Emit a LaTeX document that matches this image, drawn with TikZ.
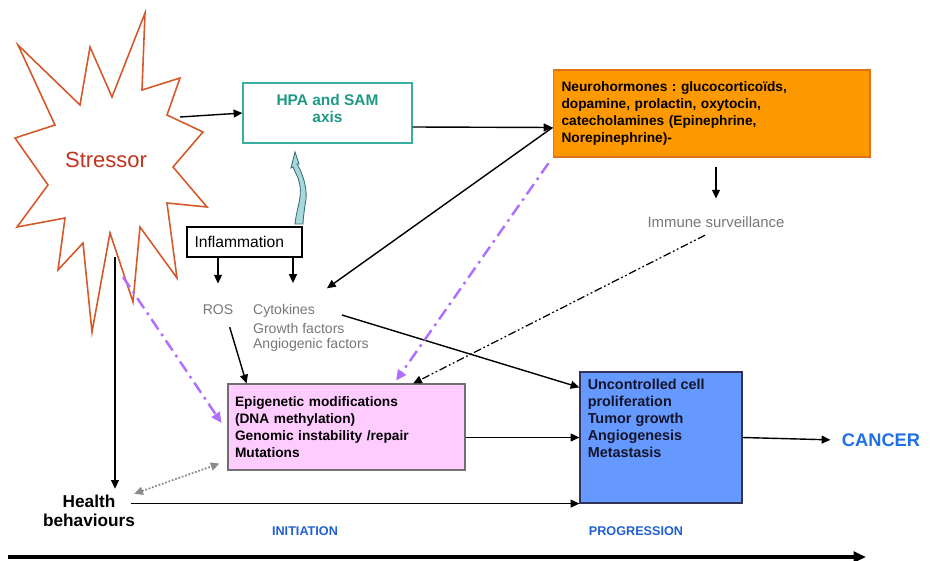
\documentclass[tikz,border=0pt]{standalone}
\usepackage{fontspec}
\setmainfont{Liberation Sans}
\usetikzlibrary{arrows.meta,calc}
\definecolor{starred}{HTML}{D4582A}
\definecolor{stressred}{HTML}{C0341D}
\definecolor{hpateal}{HTML}{3AAFA0}
\definecolor{hpatext}{HTML}{1E9985}
\definecolor{neuroorange}{HTML}{FF9900}
\definecolor{neuroedge}{HTML}{E0701A}
\definecolor{epipink}{HTML}{FFCCFF}
\definecolor{edgegray}{HTML}{707070}
\definecolor{progblue}{HTML}{6699FF}
\definecolor{progedge}{HTML}{33335A}
\definecolor{progtext}{HTML}{15152A}
\definecolor{cancerblue}{HTML}{1F6FE5}
\definecolor{stageblue}{HTML}{2060D0}
\definecolor{txtgray}{HTML}{777777}
\definecolor{arrgray}{HTML}{8A8A8A}
\definecolor{dashpurple}{HTML}{B070FF}
\definecolor{curvefill}{HTML}{A8D8DC}
\definecolor{curveedge}{HTML}{3A6F75}
\frenchspacing
\begin{document}
\begin{tikzpicture}[x=0.02cm, y=-0.02cm,
		arr/.style={-{Triangle[length=5pt,width=4.5pt]}, line width=0.8pt},
		boldtxt/.style={font=\fontsize{7.8}{9.8}\selectfont\bfseries, align=left},
		graytxt/.style={font=\fontsize{8}{9.7}\selectfont, text=txtgray, inner sep=1pt},
		stagetxt/.style={font=\fontsize{7.2}{9}\selectfont\bfseries, text=stageblue},
		purplearr/.style={-{Triangle[length=6pt,width=5.5pt]}, draw=dashpurple, line width=1.4pt, dash pattern=on 7pt off 3pt on 1.5pt off 3pt}]
		\useasboundingbox (0,0) rectangle (930,561);
		
		% Stressor
		\draw[draw=starred, line width=0.9pt, line join=miter] (145,13) -- (142,90) -- (180,78) -- (167,115) -- (203,132) -- (173,167) -- (207,207) -- (167,203) -- (177,278) -- (140,227) -- (133,302) -- (110,233) -- (92,332) -- (83,243) -- (58,270) -- (65,218) -- (17,227) -- (48,185) -- (15,138) -- (55,125) -- (18,45) -- (80,105) -- (90,47) -- (112,97) -- cycle;
		\node[font=\fontsize{12.5}{15}\selectfont, text=stressred] (stress) at (106,160) {Stressor};
		\coordinate (starE) at (180,117);
		\coordinate (starS) at (115,257);
		\coordinate (starSE) at (123,277);
		
		% HPA and neurohormones
		\node[draw=hpateal, line width=0.7pt, minimum width=3.38cm, minimum height=1.2cm, align=center, text=hpatext, font=\fontsize{8.8}{9.7}\selectfont\bfseries] (hpa) at (327.5,113) {HPA and SAM\\axis\\[-4pt]};
		\node[fill=neuroorange, draw=neuroedge, line width=0.6pt, minimum height=1.74cm, text width=6.0cm, inner xsep=0.17cm, boldtxt] (neuro) at (711.5,113.5) {Neurohormones : glucocorticoïds,\\dopamine, prolactin, oxytocin,\\catecholamines (Epinephrine,\\Norepinephrine)-};
		\node[graytxt, font=\fontsize{8.5}{10}\selectfont] (immune) at (716,222) {Immune surveillance};
		
		% Inflammation
		\node[draw, line width=0.6pt, minimum height=0.6cm, text width=2.0cm, inner xsep=0.15cm, align=left, font=\fontsize{8.9}{10}\selectfont] (infl) at (244.5,242) {Inflammation};
		\node[graytxt] (ros) at (218,310) {ROS};
		\node[graytxt, anchor=west] (cyto) at (251,311) {Cytokines};
		\node[graytxt, anchor=west] (growth) at (251,328) {Growth factors};
		\node[graytxt, anchor=west] (angio) at (251,345) {Angiogenic factors};
		
		% Curved arrow
		\filldraw[fill=curvefill, draw=curveedge, line width=0.5pt] (295,224) .. controls (297,205) and (304,195) .. (298,178) .. controls (296,173) and (294,170) .. (293,167) -- (291,168) -- (295,152) -- (299,164) -- (297,164) .. controls (302,172) and (309,190) .. (305,205) .. controls (304,213) and (303,220) .. (303,224) -- cycle;
		
		% Epigenetic and progression boxes
		\node[fill=epipink, draw=edgegray, line width=0.6pt, minimum height=1.72cm, text width=4.46cm, inner xsep=0.14cm, boldtxt] (epi) at (346.5,427) {Epigenetic modifications\\(DNA methylation)\\Genomic instability /repair\\Mutations};
		\node[fill=progblue, draw=progedge, line width=0.7pt, minimum width=3.24cm, minimum height=2.62cm] (prog) at (661,437.5) {};
		\node[align=left, font=\fontsize{8.2}{9.7}\selectfont\bfseries, text=progtext, anchor=north west, inner sep=0pt] (progtxt) at ([shift={(0.16cm,-0.14cm)}]prog.north west) {Uncontrolled cell\\proliferation\\Tumor growth\\Angiogenesis\\Metastasis};
		\node[font=\fontsize{10.4}{12}\selectfont\bfseries, text=cancerblue] (cancer) at (881,440) {CANCER};
		
		% Health behaviours
		\node[font=\fontsize{9.8}{11}\selectfont\bfseries, align=center] (health) at (89,511) {Health\\behaviours};
		
		% Stages
		\node[stagetxt] (init) at (305,531) {INITIATION};
		\node[stagetxt] (progr) at (636,531) {PROGRESSION};
		\coordinate (axisL) at (8,557);
		\coordinate (axisR) at (866,557);
		\draw[-{Triangle[length=7pt,width=6pt]}, line width=1.8pt] (axisL) -- (axisR);
		
		% Connectors
		\draw[arr] (starE) -- (hpa.west);
		\draw[arr] ([yshift=-0.28cm]hpa.east) -- ([yshift=-0.28cm]neuro.west);
		\draw[arr] ([yshift=-0.28cm]neuro.west) -- ([shift={(0.2cm,0.28cm)}]cyto.north east);
		\draw[arr, shorten <=5.5pt, shorten >=9pt] (neuro.south -| immune) -- (immune.north);
		\draw[arr, shorten >=11pt] (infl.south -| ros) -- (ros.north);
		\draw[arr, shorten >=11pt] ([xshift=0.97cm]infl.south) -- ([xshift=0.97cm]infl.south |- cyto.north);
		\draw[arr, shorten <=6pt] ($(ros.south)!0.5!(ros.south east)$) -- ($(epi.north west)!0.08!(epi.north east)$);
		\draw[arr] ([shift={(0.5cm,-0.08cm)}]cyto.east) -- ([yshift=-0.32cm]prog.north west);
		\draw[arr] (epi.east |- prog.west) -- (prog.west);
		\draw[arr, shorten >=3pt] (prog.east) -- (cancer.west);
		\draw[arr] (starS) -- (starS |- health.north);
		\draw[arr] ([xshift=-0.2cm]health.east |- prog.south west) -- (prog.south west);
		\draw[{Triangle[length=5pt,width=4.5pt]}-{Triangle[length=5pt,width=4.5pt]}, draw=arrgray, line width=1pt, densely dotted] ([shift={(-0.14cm,-0.1cm)}]health.north east) -- ([shift={(-0.16cm,0.14cm)}]epi.south west);
		\draw[purplearr] (starSE) -- ([xshift=-0.12cm, yshift=0.08cm]epi.west);
		\draw[purplearr, shorten <=4pt, shorten >=2pt] (neuro.south west) -- ($(epi.north west)!0.70!(epi.north east)$);
		\draw[arr, line width=0.7pt, dash pattern=on 4.5pt off 1.5pt on 1pt off 1.5pt on 1pt off 1.5pt, shorten <=7pt] (immune.south) -- ($(epi.north west)!0.78!(epi.north east)$);
		
	\end{tikzpicture}
\end{document}
